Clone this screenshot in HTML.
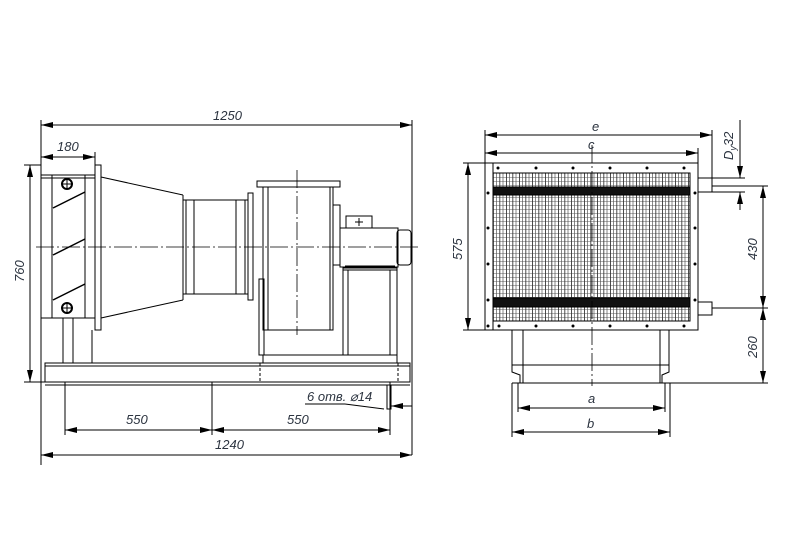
<!DOCTYPE html>
<html><head><meta charset="utf-8"><style>
html,body{margin:0;padding:0;background:#fff}
svg{display:block}
text{font-family:"Liberation Sans",sans-serif;font-style:italic;font-size:13px;fill:#2c3440}
</style></head><body>
<svg width="794" height="548" viewBox="0 0 794 548" xmlns="http://www.w3.org/2000/svg">
<defs>
<marker id="a" viewBox="0 0 12 6" refX="12" refY="3" markerWidth="12" markerHeight="6" orient="auto-start-reverse" markerUnits="userSpaceOnUse"><path d="M0,0 L12,3 L0,6z" fill="#000"/></marker>
<pattern id="g" width="6.5" height="4" patternUnits="userSpaceOnUse" x="493" y="173"><rect width="6.5" height="4" fill="#fff"/><path d="M0,0V4" stroke="#000" stroke-width="1.4" fill="none"/><path d="M0,0H6.5" stroke="#333" stroke-width="0.8" fill="none"/><path d="M3.5,0V4" stroke="#555" stroke-width="0.7"/></pattern>
</defs>
<g stroke="#000" stroke-width="1" fill="none">
<!-- LEFT VIEW -->
<line x1="41" y1="120" x2="41" y2="465"/><line x1="412" y1="120" x2="412" y2="455"/>
<line x1="41" y1="125" x2="412" y2="125" marker-start="url(#a)" marker-end="url(#a)"/>
<line x1="95" y1="152" x2="95" y2="165"/>
<line x1="41" y1="157" x2="95" y2="157" marker-start="url(#a)" marker-end="url(#a)"/>
<line x1="24" y1="165" x2="41" y2="165"/><line x1="24" y1="382" x2="45" y2="382"/>
<line x1="30" y1="165" x2="30" y2="382" marker-start="url(#a)" marker-end="url(#a)"/>
<rect x="41" y="175" width="54" height="143"/>
<line x1="52" y1="175" x2="52" y2="318"/><line x1="85" y1="175" x2="85" y2="318"/>
<line x1="41" y1="178" x2="95" y2="178"/>
<rect x="95" y="165" width="6" height="165"/>
<line x1="53" y1="208" x2="85" y2="192" stroke-width="1.5"/>
<line x1="53" y1="255" x2="85" y2="239" stroke-width="1.5"/>
<line x1="53" y1="300" x2="85" y2="284" stroke-width="1.5"/>
<circle cx="67" cy="184" r="5" stroke-width="2"/><circle cx="67" cy="308" r="5" stroke-width="2"/>
<line x1="62" y1="184" x2="72" y2="184"/><line x1="67" y1="179" x2="67" y2="189"/>
<line x1="62" y1="308" x2="72" y2="308"/><line x1="67" y1="303" x2="67" y2="313"/>
<line x1="101" y1="177" x2="183" y2="195"/><line x1="101" y1="318" x2="183" y2="300"/>
<line x1="183" y1="195" x2="183" y2="300"/>
<rect x="183" y="200" width="65" height="94"/>
<rect x="186" y="200" width="8" height="94"/><rect x="236" y="200" width="9" height="94"/>
<rect x="248" y="193" width="5" height="107"/>
<rect x="257" y="181" width="83" height="6"/>
<rect x="263" y="187" width="70" height="143"/>
<line x1="268" y1="187" x2="268" y2="330"/><line x1="330" y1="187" x2="330" y2="330"/>
<rect x="259" y="279" width="5" height="76"/>
<rect x="333" y="205" width="7" height="60"/>
<rect x="346" y="216" width="26" height="12"/>
<line x1="355" y1="222" x2="363" y2="222"/><line x1="359" y1="218" x2="359" y2="226"/>
<rect x="340" y="228" width="58" height="39"/>
<rect x="397" y="230" width="14" height="35" rx="3"/>
<line x1="345" y1="266" x2="395" y2="266"/>
<rect x="343" y="268" width="54" height="87"/>
<line x1="343" y1="270" x2="397" y2="270"/>
<line x1="348" y1="270" x2="348" y2="355"/><line x1="390" y1="270" x2="390" y2="355"/>
<rect x="263" y="355" width="134" height="8"/>
<line x1="63" y1="318" x2="63" y2="363"/><line x1="73" y1="318" x2="73" y2="363"/><line x1="92" y1="330" x2="92" y2="363"/>
<rect x="45" y="363" width="365" height="19"/>
<line x1="45" y1="366" x2="410" y2="366"/><line x1="45" y1="385" x2="410" y2="385"/>
<line x1="260" y1="363" x2="260" y2="382" stroke-dasharray="3 2"/>
<line x1="398" y1="363" x2="398" y2="382" stroke-dasharray="3 2"/>
<line x1="36" y1="247" x2="418" y2="247" stroke-dasharray="18 3 2 3" stroke-width="0.8"/>
<line x1="297" y1="170" x2="297" y2="335" stroke-dasharray="18 3 2 3" stroke-width="0.8"/>
<line x1="65" y1="382" x2="65" y2="435"/><line x1="212" y1="382" x2="212" y2="435"/><line x1="390" y1="382" x2="390" y2="435"/>
<line x1="65" y1="430" x2="212" y2="430" marker-start="url(#a)" marker-end="url(#a)"/>
<line x1="212" y1="430" x2="390" y2="430" marker-start="url(#a)" marker-end="url(#a)"/>
<line x1="41" y1="455" x2="412" y2="455" marker-start="url(#a)" marker-end="url(#a)"/>
<rect x="387" y="385" width="4" height="24"/>
<line x1="305" y1="404" x2="345" y2="404"/><line x1="345" y1="404" x2="384" y2="409"/>
<line x1="392" y1="406" x2="413" y2="406" marker-end="url(#a)" transform="rotate(180 402 406)"/>
<!-- RIGHT VIEW -->
<line x1="485" y1="130" x2="485" y2="330"/><line x1="712" y1="130" x2="712" y2="192"/><line x1="698" y1="148" x2="698" y2="163"/>
<line x1="485" y1="135" x2="712" y2="135" marker-start="url(#a)" marker-end="url(#a)"/>
<line x1="485" y1="153" x2="698" y2="153" marker-start="url(#a)" marker-end="url(#a)"/>
<rect x="485" y="163" width="213" height="167"/>
<rect x="493" y="173" width="197" height="148" fill="url(#g)"/>
<rect x="493" y="187" width="197" height="8" fill="#111"/>
<rect x="493" y="298" width="197" height="9" fill="#111"/>
<line x1="493" y1="163" x2="493" y2="330"/>
<g fill="#000" stroke="none">
<circle cx="498" cy="168" r="1.5"/><circle cx="536" cy="168" r="1.5"/><circle cx="573" cy="168" r="1.5"/><circle cx="610" cy="168" r="1.5"/><circle cx="647" cy="168" r="1.5"/><circle cx="684" cy="168" r="1.5"/>
<circle cx="488" cy="193" r="1.5"/><circle cx="488" cy="228" r="1.5"/><circle cx="488" cy="264" r="1.5"/><circle cx="488" cy="300" r="1.5"/><circle cx="488" cy="326" r="1.5"/>
<circle cx="695" cy="193" r="1.5"/><circle cx="695" cy="228" r="1.5"/><circle cx="695" cy="264" r="1.5"/><circle cx="695" cy="300" r="1.5"/>
<circle cx="499" cy="326" r="1.5"/><circle cx="536" cy="326" r="1.5"/><circle cx="573" cy="326" r="1.5"/><circle cx="610" cy="326" r="1.5"/><circle cx="647" cy="326" r="1.5"/><circle cx="684" cy="326" r="1.5"/>
</g>
<rect x="698" y="178" width="14" height="14"/>
<rect x="698" y="302" width="14" height="13"/>
<line x1="740" y1="120" x2="740" y2="178" marker-end="url(#a)"/>
<line x1="740" y1="192" x2="740" y2="210" marker-start="url(#a)"/>
<line x1="712" y1="178" x2="745" y2="178"/><line x1="712" y1="186" x2="768" y2="186"/><line x1="712" y1="192" x2="745" y2="192"/>
<line x1="712" y1="308" x2="768" y2="308"/>
<line x1="670" y1="383" x2="768" y2="383"/>
<line x1="763" y1="186" x2="763" y2="308" marker-start="url(#a)" marker-end="url(#a)"/>
<line x1="763" y1="308" x2="763" y2="383" marker-start="url(#a)" marker-end="url(#a)"/>
<line x1="463" y1="163" x2="485" y2="163"/><line x1="463" y1="330" x2="485" y2="330"/>
<line x1="468" y1="163" x2="468" y2="330" marker-start="url(#a)" marker-end="url(#a)"/>
<line x1="512" y1="330" x2="512" y2="365"/><line x1="669" y1="330" x2="669" y2="365"/>
<line x1="523" y1="330" x2="523" y2="383"/><line x1="660" y1="330" x2="660" y2="383"/>
<line x1="512" y1="365" x2="669" y2="365"/>
<path d="M512,365 L512,372 L520,375 L520,383 M669,365 L669,372 L662,375 L662,383"/>
<line x1="512" y1="383" x2="670" y2="383"/>
<line x1="512" y1="383" x2="512" y2="437"/><line x1="670" y1="383" x2="670" y2="437"/>
<line x1="518" y1="383" x2="518" y2="412"/><line x1="665" y1="383" x2="665" y2="412"/>
<line x1="518" y1="408" x2="665" y2="408" marker-start="url(#a)" marker-end="url(#a)"/>
<line x1="512" y1="432" x2="670" y2="432" marker-start="url(#a)" marker-end="url(#a)"/>
<line x1="592" y1="145" x2="592" y2="386" stroke-dasharray="18 3 2 3" stroke-width="0.8"/>
</g>
<text x="213" y="120">1250</text>
<text x="57" y="151">180</text>
<text transform="translate(24,282) rotate(-90)">760</text>
<text x="126" y="424">550</text>
<text x="287" y="424">550</text>
<text x="215" y="449">1240</text>
<text x="307" y="401">6 отв. ⌀14</text>
<text x="592" y="131">e</text>
<text x="588" y="149">c</text>
<text transform="translate(462,260) rotate(-90)">575</text>
<text transform="translate(733,160) rotate(-90)">D<tspan font-size="9" dy="3">y</tspan><tspan dy="-3">32</tspan></text>
<text transform="translate(757,260) rotate(-90)">430</text>
<text transform="translate(757,358) rotate(-90)">260</text>
<text x="588" y="403">a</text>
<text x="587" y="428">b</text>
</svg>
</body></html>
